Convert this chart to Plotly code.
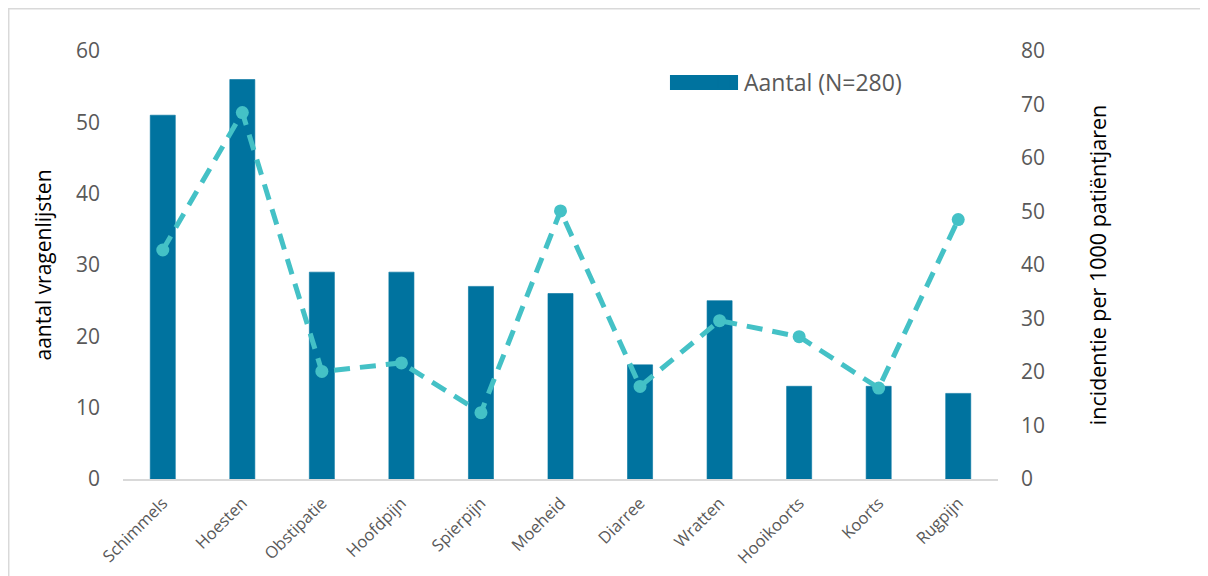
import plotly.graph_objects as go

categories = ["Schimmels", "Hoesten", "Obstipatie", "Hoofdpijn", "Spierpijn", "Moeheid",
              "Diarree", "Wratten", "Hooikoorts", "Koorts", "Rugpijn"]
aantal = [51, 56, 29, 29, 27, 26, 16, 25, 13, 13, 12]
incidentie = [42.8, 68.5, 20.1, 21.7, 12.4, 50.1, 17.3, 29.6, 26.6, 17.0, 48.5]
left_ticks = [0, 10, 20, 30, 40, 50, 60]
right_ticks = [0, 10, 20, 30, 40, 50, 60, 70, 80]

BAR = "#00739F"
LINE = "#44C1C6"
TXT = "#595959"
FONT = "Open Sans"

fig = go.Figure()
fig.add_trace(go.Bar(
    x=categories, y=aantal, name="Aantal (N=280)",
    marker=dict(color=BAR, line=dict(color=BAR, width=0.6)),
    yaxis="y",
))
fig.add_trace(go.Scatter(
    x=categories, y=incidentie, name="Incidentie",
    mode="lines+markers",
    line=dict(color=LINE, width=5, dash="16px,10px"),
    marker=dict(color=LINE, size=13),
    yaxis="y2", showlegend=False,
))

fig.update_layout(
    width=1208, height=576,
    margin=dict(l=115, r=218, t=43, b=105, autoexpand=False),
    paper_bgcolor="white", plot_bgcolor="white",
    font=dict(family=FONT, color=TXT),
    bargap=0.685,
    showlegend=True,
    legend=dict(x=0.664, y=0.928, xanchor="left", yanchor="middle",
                font=dict(size=23, color=TXT), bgcolor="rgba(0,0,0,0)"),
    xaxis=dict(
        range=[-0.5, len(categories) - 0.5],
        tickangle=-45, tickfont=dict(size=16.5, color=TXT),
        showline=True, linecolor="#D9D9D9", linewidth=2,
        showgrid=False, ticks="", ticklabelstandoff=6, automargin=False,
    ),
    yaxis=dict(
        range=[0, 60], tickvals=left_ticks, showgrid=False, zeroline=False,
        tickfont=dict(size=21, color=TXT), ticklabelstandoff=22, automargin=False,
        title=dict(text="aantal vragenlijsten", font=dict(size=21, color="#000000"), standoff=18),
    ),
    yaxis2=dict(
        range=[0, 80], tickvals=right_ticks, overlaying="y", side="right",
        showgrid=False, zeroline=False, automargin=False,
        tickfont=dict(size=21, color=TXT), ticklabelstandoff=22,
        title=dict(text="incidentie per 1000 patiëntjaren", font=dict(size=21.5, color="#000000"), standoff=46),
    ),
    shapes=[
        dict(type="rect", xref="paper", yref="paper",
             x0=-0.1306, x1=1.35, y0=-0.35, y1=1.0987,
             line=dict(color="#D9D9D9", width=1.5), layer="below"),
        # wide legend swatch (Excel-style) drawn over the legend's square
        dict(type="rect", xref="paper", yref="paper",
             x0=0.6251, x1=0.7029, y0=0.9089, y1=0.9439,
             fillcolor=BAR, line=dict(width=0), layer="above"),
    ],
)

fig.write_html("out.html")
